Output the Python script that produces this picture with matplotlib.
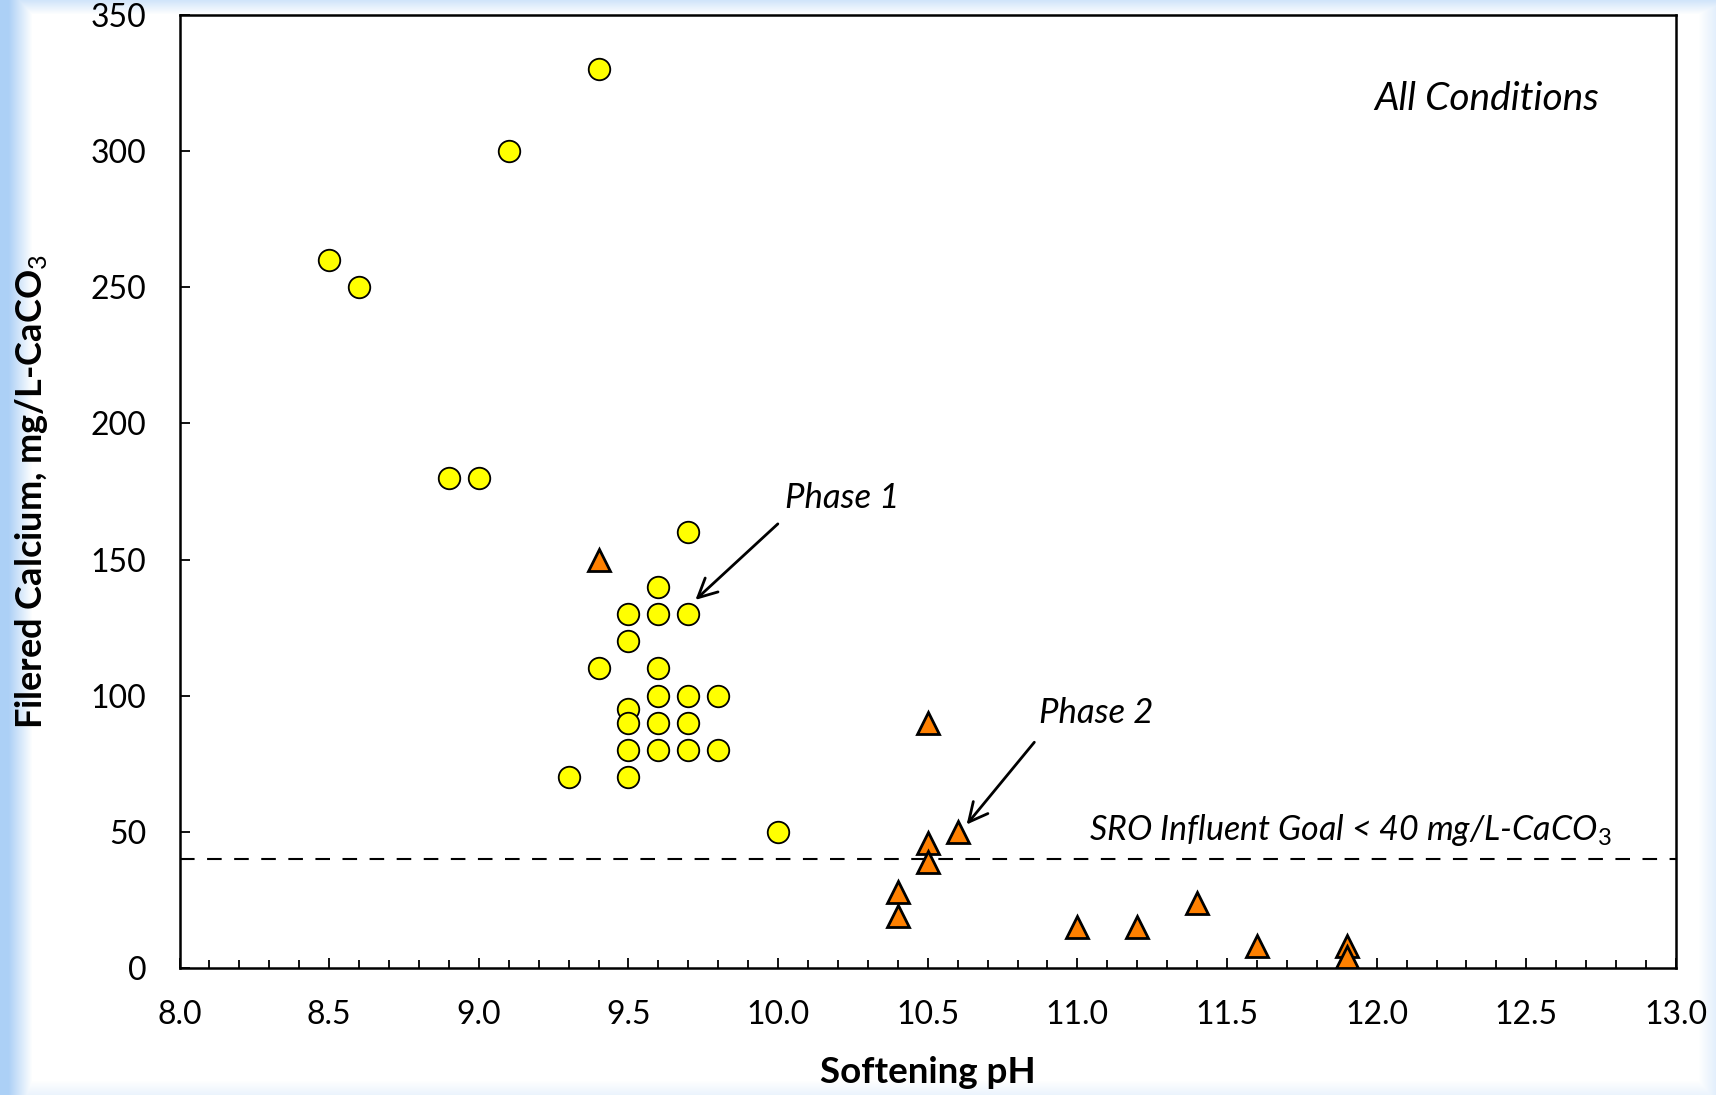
import numpy as np
import matplotlib.pyplot as plt
from matplotlib.ticker import MultipleLocator, FormatStrFormatter

# Data
phase1_ph = [8.5, 8.6, 8.9, 9.0, 9.1, 9.4, 9.7, 9.6, 9.5, 9.6, 9.7, 9.5, 9.4, 9.6,
             9.6, 9.7, 9.8, 9.5, 9.5, 9.6, 9.7, 9.5, 9.6, 9.7, 9.8, 9.3, 9.5, 10.0]
phase1_ca = [260, 250, 180, 180, 300, 330, 160, 140, 130, 130, 130, 120, 110, 110,
             100, 100, 100, 95, 90, 90, 90, 80, 80, 80, 80, 70, 70, 50]

phase2_ph = [9.4, 10.5, 10.5, 10.6, 10.5, 10.4, 10.4, 11.0, 11.2, 11.4, 11.6, 11.9, 11.9]
phase2_ca = [150, 90, 46, 50, 39, 28, 19, 15, 15, 24, 8, 8, 4]

goal = 40

plt.rcParams['font.family'] = ['Lato', 'DejaVu Sans']
plt.rcParams['mathtext.fontset'] = 'custom'
plt.rcParams['mathtext.rm'] = 'Lato'
plt.rcParams['mathtext.it'] = 'Lato:italic'
plt.rcParams['mathtext.bf'] = 'Lato:bold'

W, H = 1716, 1095
fig = plt.figure(figsize=(W / 100, H / 100), dpi=100)

# light blue slide border behind the chart
xs = np.arange(W)[None, :]
ys = np.arange(H)[:, None]
left = np.clip(1 - (xs - 8) / 24, 0, 1)
top = np.clip(1 - ys / 14, 0, 1) * 0.55
right = np.clip((xs - 1698) / 18, 0, 1) * 0.35
bottom = np.clip((ys - 1080) / 15, 0, 1) * 0.25
k = np.maximum(np.maximum(left, top), np.maximum(right, bottom))
blue = np.array([172, 208, 246]) / 255
bg = 1 - k[..., None] * (1 - blue)
fig.figimage(bg, xo=0, yo=0, origin='upper', zorder=-1)

ax = fig.add_axes([179.5 / W, 1 - 968 / H, (1676 - 179.5) / W, (968 - 15) / H])
ax.set_facecolor('white')

ax.axhline(goal, color='black', lw=1.5, dashes=(7, 6), zorder=1)

ax.plot(phase1_ph, phase1_ca, 'o', ms=15.5, mfc='#FFFF00', mec='black', mew=1.3, zorder=3)
ax.plot(phase2_ph, phase2_ca, '^', ms=16.5, mfc='#FF8000', mec='black', mew=2.0, zorder=3)

ax.set_xlim(8.0, 13.0)
ax.set_ylim(0, 350)
ax.xaxis.set_major_locator(MultipleLocator(0.5))
ax.xaxis.set_minor_locator(MultipleLocator(0.1))
ax.xaxis.set_major_formatter(FormatStrFormatter('%.1f'))
ax.yaxis.set_major_locator(MultipleLocator(50))

ax.tick_params(axis='both', which='both', direction='in', top=False, right=False,
               width=1.3, colors='black')
ax.tick_params(axis='both', which='major', length=7.5, labelsize=23)
ax.tick_params(axis='x', which='minor', length=5.5)
ax.tick_params(axis='x', which='major', pad=23)
ax.tick_params(axis='y', which='major', pad=24)
for s in ax.spines.values():
    s.set_linewidth(1.8)

ax.set_xlabel('Softening pH', fontsize=26.5, fontweight='bold', va='center')
ax.xaxis.set_label_coords(0.5, -0.110)
ax.set_ylabel(r'Filered Calcium, mg/L-CaCO$_3$', fontsize=26, fontweight='bold', va='center')
ax.yaxis.set_label_coords(-0.099, 0.5)

ax.text(12.367, 319.3, 'All Conditions', fontsize=28, style='italic',
        ha='center', va='center')
ax.text(11.911, 50.8, r'SRO Influent Goal < 40 mg/L-CaCO$_{\mathit{3}}$', fontsize=24.5,
        style='italic', ha='center', va='center')

ax.text(10.213, 172.6, 'Phase 1', fontsize=25, style='italic', ha='center', va='center')
ax.annotate('', xy=(9.717, 134.5), xytext=(10.006, 163.8),
            arrowprops=dict(arrowstyle='->', lw=2, color='black', mutation_scale=34))
ax.text(11.064, 93.6, 'Phase 2', fontsize=25, style='italic', ha='center', va='center')
ax.annotate('', xy=(10.624, 51.9), xytext=(10.862, 83.7),
            arrowprops=dict(arrowstyle='->', lw=2, color='black', mutation_scale=34))

fig.savefig('out.png', dpi=100)
